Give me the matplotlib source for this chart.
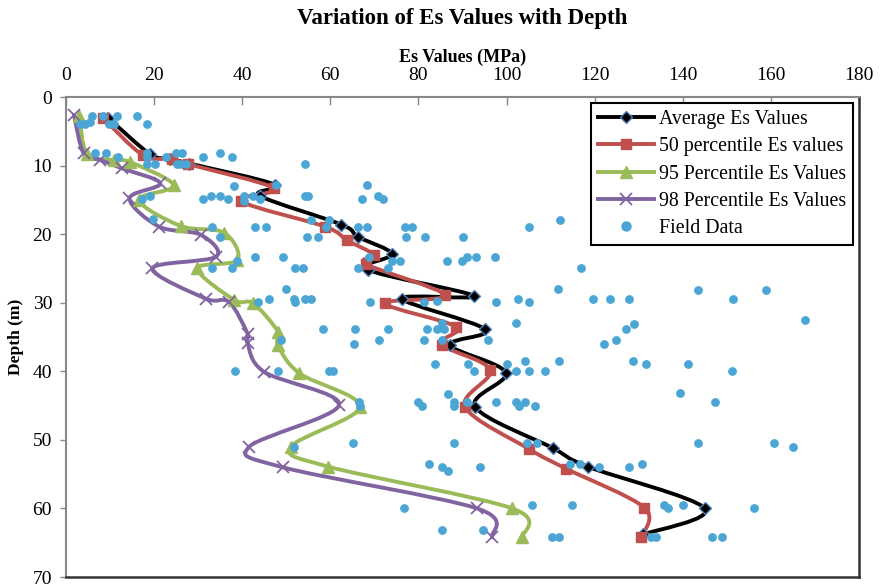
import numpy as np
import matplotlib
matplotlib.use('Agg')
from matplotlib import pyplot as plt
from matplotlib.path import Path
from matplotlib.patches import PathPatch
from matplotlib.lines import Line2D

plt.rcParams['font.family'] = ['Liberation Serif', 'DejaVu Serif']

# 平均值 / 各分位数曲线 (深度 m, Es MPa)
avg_depth = [3, 8.3, 9, 9.7, 12.8, 14.4, 18.6, 20.4, 22.9, 25.2, 29, 29.4,
             33.9, 36.2, 40.2, 45.2, 51.2, 53.9, 60, 63.8]
avg_es = [9.5, 19, 23.5, 28, 47.5, 44, 62.5, 66.3, 74, 68.6, 92.5, 76.2,
          95.2, 87.2, 99.8, 92.9, 110.5, 118.4, 145, 131]

p50_depth = [3, 8.5, 9, 9.8, 13.3, 15.2, 18.9, 20.9, 23, 24.4, 28.9, 30.1,
             33.5, 36.1, 39.8, 45.2, 51.3, 54.2, 59.9, 64.2]
p50_es = [8.3, 17.5, 24, 27.8, 47.2, 39.8, 58.8, 63.8, 69.8, 68.2, 86.1, 72.4,
          88.5, 85.3, 96.3, 90.6, 105, 113.5, 131.3, 130.6]

p95_depth = [2.8, 8.3, 9.2, 9.5, 12.9, 15, 18.8, 19.8, 23.8, 25, 29.6, 30.1,
             34.2, 36.2, 40.3, 45.2, 51, 53.9, 60, 64.2]
p95_es = [3, 4.8, 10.8, 14.6, 24.5, 16.5, 26, 35.9, 38.9, 29.8, 38.2, 42.5,
          48.1, 48.1, 53, 66.7, 51.1, 59.5, 101.3, 103.6]

p98_depth = [2.6, 8.2, 9.2, 10.4, 12.6, 14.8, 18.9, 20.1, 23.3, 25, 29.4, 29.9,
             34.5, 35.9, 40.1, 44.9, 51, 54, 60, 64.2]
p98_es = [1.8, 4, 7.8, 12.7, 21.4, 14.4, 21.1, 30.6, 34, 19.6, 31.7, 37,
          41.2, 41.2, 45, 62, 41.6, 49.2, 93.3, 96.7]

# 现场数据
field_es = [5.9, 8.5, 11.6, 16.1, 3.2, 4.3, 5.5, 9.8, 11, 18.3,
            6.6, 9.1, 11.9, 18.3, 18.4, 22.6, 24.9, 26.4, 31.2, 34.9, 37.6,
            18.3, 20.1, 25.1, 26.2, 27.2, 54.3,
            38.2, 47.7, 68.3,
            17.3, 19, 31, 33, 35, 36.8, 40.5, 42.4, 44, 40.5, 54.3, 54.9, 67.1, 70.9, 72,
            19.7, 55.5, 59.8, 59.1, 112.2,
            33.1, 42.9, 45.4, 66.2, 68.4, 77, 78.5, 105.1,
            35, 54.7, 57.2, 77.1, 81.4, 90.1,
            38.9, 42.9, 49.2, 68.7, 73.9, 75.8, 86.5, 89.9, 91, 93.1, 97.3,
            33.1, 37.6, 51.9, 53.9, 66.3, 73.2, 116.9,
            50, 111.6, 143.4, 158.9,
            43.5, 46, 51.7, 51.9, 54.3, 55.5, 69.1, 81.3, 84.3, 97.5, 102.6, 105.1,
            119.6, 123.4, 127.8, 151.5,
            85.3, 102.1, 128.9, 167.7,
            58.3, 65.5, 73, 81.9, 84.2, 85.7, 127.2,
            48.8, 71, 81.3, 85.3, 95.8, 124.9, 122.1, 65.4,
            83.8, 91.3, 100.2, 104.2, 111.8, 128.7, 131.6, 141.1,
            38.4, 48.1, 59.7, 60.6, 92.6, 102.1, 105.1, 108.8, 151.1,
            86.7, 139.3,
            66.5, 66.7, 80, 80.9, 88, 88, 91, 97.5, 102.1, 104.2, 102.8, 106.5, 147.4,
            51.7, 65.1, 88.1, 104.7, 106.9, 143.5, 160.6, 165,
            82.3, 85.3, 86.7, 93.9, 114.4, 116.7, 120.9, 127.9, 130.8,
            76.8, 105.7, 114.8, 135.8, 136.7, 140.1, 156.1,
            85.3, 94.7, 110.4, 111.8, 132.9, 134, 146.6, 148.9]
field_depth = [2.8, 2.8, 2.8, 2.8, 3.9, 3.9, 3.6, 3.9, 3.9, 4.0,
               8.2, 8.2, 8.8, 8.2, 8.8, 8.8, 8.2, 8.2, 8.8, 8.2, 8.8,
               9.8, 9.8, 9.8, 9.8, 9.8, 9.8,
               13, 12.8, 12.8,
               14.9, 14.4, 14.9, 14.4, 14.4, 14.9, 14.4, 14.4, 14.9, 15.1, 14.4, 14.4, 14.9, 14.4, 14.9,
               17.8, 17.9, 17.9, 18.9, 17.9,
               18.9, 18.9, 18.9, 18.9, 18.9, 18.9, 18.9, 18.9,
               20.4, 20.4, 20.4, 20.4, 20.4, 20.4,
               23.9, 23.4, 23.4, 23.4, 23.9, 23.9, 23.9, 23.9, 23.4, 23.4, 23.4,
               24.9, 24.9, 24.9, 24.9, 24.9, 24.9, 24.9,
               28, 28, 28.1, 28.2,
               29.9, 29.4, 29.4, 29.9, 29.4, 29.4, 29.9, 29.9, 29.8, 29.9, 29.4, 29.9,
               29.4, 29.4, 29.4, 29.4,
               33, 33, 33.1, 32.5,
               33.9, 33.9, 33.9, 33.9, 33.9, 33.9, 33.9,
               35.5, 35.5, 35.5, 35.5, 35.5, 35.5, 36, 36,
               38.9, 38.9, 38.9, 38.5, 38.5, 38.5, 39, 39,
               40, 40, 40, 40, 40, 40, 40, 40, 40,
               43.3, 43.2,
               44.5, 45, 44.5, 45, 44.5, 45, 44.5, 44.5, 44.5, 44.5, 45, 45, 44.5,
               51, 50.5, 50.5, 50.5, 50.5, 50.5, 50.5, 51,
               53.5, 54, 54.6, 54, 53.5, 53.5, 54, 54, 53.5,
               60, 59.5, 59.5, 59.5, 60, 59.5, 60,
               63.1, 63.1, 64.2, 64.2, 64.2, 64.2, 64.2, 64.2]


def smooth_path(xs, ys):
    """按 Excel 平滑线方式生成贝塞尔路径"""
    pts = np.column_stack([xs, ys]).astype(float)
    n = len(pts)
    verts = [pts[0]]
    codes = [Path.MOVETO]
    for i in range(n - 1):
        p0 = pts[i - 1] if i > 0 else pts[i]
        p1 = pts[i]
        p2 = pts[i + 1]
        p3 = pts[i + 2] if i + 2 < n else pts[i + 1]
        verts += [p1 + (p2 - p0) / 6, p2 - (p3 - p1) / 6, p2]
        codes += [Path.CURVE4] * 3
    return Path(verts, codes)


fig = plt.figure(figsize=(8.8, 5.85), dpi=100)
ax = fig.add_axes([66 / 880, 1 - 577 / 585, (859 - 66) / 880, (577 - 97) / 585])

series = [
    (avg_es, avg_depth, 'black', dict(marker='D', ms=6, mfc='black', mec='#4F81BD', mew=1.0),
     'Average Es Values'),
    (p50_es, p50_depth, '#C0504D', dict(marker='s', ms=6.5, mfc='#C0504D', mec='#C0504D'),
     '50 percentile Es values'),
    (p95_es, p95_depth, '#9BBB59', dict(marker='^', ms=9, mfc='#9BBB59', mec='#9BBB59'),
     '95 Percentile Es Values'),
    (p98_es, p98_depth, '#8064A2', dict(marker='x', ms=8, mec='#8064A2', mew=1.3),
     '98 Percentile Es Values'),
]

handles = []
for xs, ys, color, mk, label in series:
    ax.add_patch(PathPatch(smooth_path(xs, ys), facecolor='none', edgecolor=color,
                           lw=2.8, capstyle='round', joinstyle='round'))
    ax.plot(xs, ys, ls='none', **mk)
    handles.append(Line2D([], [], color=color, lw=2.8, **mk))

dot_color = '#4BA5D5'
ax.scatter(field_es, field_depth, s=40, color=dot_color, zorder=5, linewidths=0)
handles.append(Line2D([], [], ls='none', marker='o', ms=6.5, color=dot_color))

ax.set_xlim(0, 180)
ax.set_ylim(70, 0)
ax.set_xticks(range(0, 181, 20))
ax.set_yticks(range(0, 71, 10))
ax.xaxis.tick_top()
ax.xaxis.set_label_position('top')
ax.tick_params(axis='x', direction='in', length=6, width=1, color='#888888',
               labelsize=14, pad=9)
ax.tick_params(axis='y', direction='out', length=4, width=1, color='#888888',
               labelsize=14, pad=6)

for side in ['left', 'top']:
    ax.spines[side].set_color('#888888')
    ax.spines[side].set_linewidth(1.5)
for side in ['right', 'bottom']:
    ax.spines[side].set_color('#333333')
    ax.spines[side].set_linewidth(1.8)

ax.set_xlabel('Es Values (MPa)', fontsize=13, fontweight='bold', labelpad=4)
ax.set_ylabel('Depth (m)', fontsize=12.5, fontweight='bold', labelpad=6)
fig.text((66 + 859) / 2 / 880, 1 - 18.5 / 585, 'Variation of Es Values with Depth',
         ha='center', va='center', fontsize=16.5, fontweight='bold')

leg = ax.legend(handles, [s[4] for s in series] + ['Field Data'],
                loc='upper right', bbox_to_anchor=(0.9925, 0.9875),
                fontsize=14.3, handlelength=2.8, handletextpad=0.25,
                labelspacing=0.42, borderpad=0.35, borderaxespad=0,
                fancybox=False, framealpha=1, edgecolor='black')
leg.get_frame().set_linewidth(1.5)

fig.savefig('out.png', dpi=100)
